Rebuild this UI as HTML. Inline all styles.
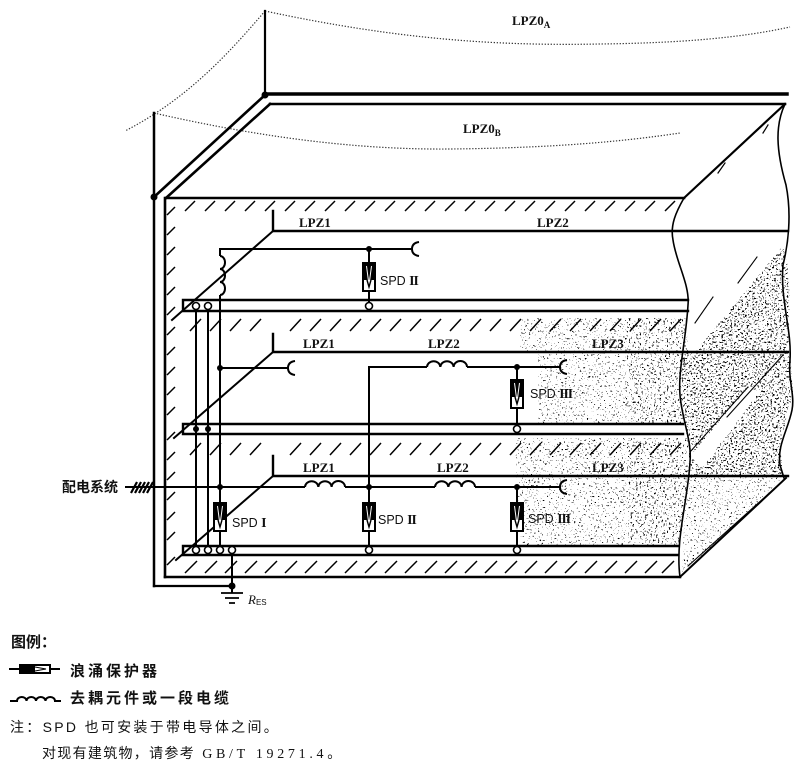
<!DOCTYPE html>
<html><head><meta charset="utf-8">
<style>
html,body{margin:0;padding:0;background:#fff;}
svg{display:block}
.t{font-family:"Liberation Serif",serif;font-weight:bold;font-size:13px;fill:#111}
.s{font-family:"Liberation Sans","Noto Sans CJK SC",sans-serif;font-size:12.5px;fill:#111}
.r{font-family:"Liberation Serif",serif;font-weight:bold;font-size:13.5px}
.c{font-family:"Liberation Sans","Noto Sans CJK SC",sans-serif;fill:#111}
</style></head><body>
<svg width="800" height="763" viewBox="0 0 800 763" xmlns="http://www.w3.org/2000/svg">
<defs>
<filter id="stL" color-interpolation-filters="sRGB">
 <feTurbulence type="fractalNoise" baseFrequency="0.55" numOctaves="2" seed="7" result="n"/>
 <feColorMatrix in="n" type="matrix" values="0 0 0 0 0  0 0 0 0 0  0 0 0 0 0  -20 0 0 0 6.6" result="a"/>
 <feComposite in="a" in2="SourceGraphic" operator="in"/>
</filter>
<filter id="stM" color-interpolation-filters="sRGB">
 <feTurbulence type="fractalNoise" baseFrequency="0.55" numOctaves="2" seed="3" result="n"/>
 <feColorMatrix in="n" type="matrix" values="0 0 0 0 0  0 0 0 0 0  0 0 0 0 0  -20 0 0 0 7.3" result="a"/>
 <feComposite in="a" in2="SourceGraphic" operator="in"/>
</filter>
<filter id="stD" color-interpolation-filters="sRGB">
 <feTurbulence type="fractalNoise" baseFrequency="0.55" numOctaves="2" seed="11" result="n"/>
 <feColorMatrix in="n" type="matrix" values="0 0 0 0 0  0 0 0 0 0  0 0 0 0 0  -20 0 0 0 8.0" result="a"/>
 <feComposite in="a" in2="SourceGraphic" operator="in"/>
</filter>
</defs>
<rect width="800" height="763" fill="#fff"/>

<!-- stipple regions -->
<g fill="#000">
 <polygon filter="url(#stL)" points="520,318 625,318 625,424 538,424 538,352 520,352"/>
 <polygon filter="url(#stM)" points="625,318 686,318 688,352 682,395 683,424 625,424"/>
 <polygon filter="url(#stL)" points="515,438 628,438 628,545 520,545"/>
 <polygon filter="url(#stM)" points="628,438 688,438 690,462 686,500 680,545 628,545"/>
 <polygon filter="url(#stD)" points="695,352 783,246 787,262 790,300 788,352"/>
 <polygon filter="url(#stD)" points="683,352 790,352 793,393 780,445 783,477 688,477 690,460 681,395"/>
 <polygon filter="url(#stL)" points="686,477 785,477 682,575"/>
</g>
<polygon fill="#fff" points="690,456 748,388 760,391 702,468"/>

<!-- dotted boundary curves -->
<g fill="none" stroke="#333" stroke-width="1.2" stroke-dasharray="1.3 1.7">
 <path d="M265,11 C400,40 500,46 600,44 C680,43 740,38 790,27"/>
 <path d="M265,11 C225,58 185,100 125,131"/>
 <path d="M154,113 C250,135 350,150 450,149 C550,148 620,142 680,133"/>
</g>

<!-- building structure -->
<g stroke="#000" fill="none" stroke-linecap="square">
 <line x1="265" y1="11" x2="265" y2="95" stroke-width="2.2"/>
 <line x1="154" y1="113" x2="154" y2="586" stroke-width="2.5"/>
 <line x1="154" y1="586" x2="232" y2="586" stroke-width="2.2"/>
 <line x1="265" y1="94" x2="787" y2="94" stroke-width="3.5"/>
 <line x1="270" y1="104" x2="785" y2="104" stroke-width="2.5"/>
 <line x1="265" y1="95" x2="154" y2="197" stroke-width="2.6"/>
 <line x1="270" y1="104" x2="166" y2="198" stroke-width="2.6"/>
 <line x1="166" y1="198" x2="684" y2="198" stroke-width="2.6"/>
 <line x1="785" y1="104" x2="684" y2="198" stroke-width="2.2"/>
 <line x1="718" y1="173" x2="725" y2="163" stroke-width="1.2"/>
 <line x1="763" y1="133" x2="768" y2="125" stroke-width="1.2"/>
 <line x1="165" y1="198" x2="165" y2="577" stroke-width="2.6"/>
 <line x1="165" y1="577" x2="680" y2="577" stroke-width="2.6"/>
 <!-- wavy breaks -->
 <path stroke-width="1.6" d="M684,198 C676,212 670,225 673,240 C676,262 690,285 688,305 C686,340 678,370 680,395 C682,420 692,440 690,462 C688,500 675,540 680,577"/>
 <path stroke-width="1.6" d="M785,104 C775,125 776,150 786,185 C792,215 788,245 783,265 C780,300 792,330 790,360 C788,380 795,395 792,410 C788,430 777,445 780,465 L784,478"/>
 <line x1="680" y1="577" x2="786" y2="478" stroke-width="2"/>
 <line x1="688" y1="566" x2="774" y2="489" stroke-width="1.1"/>
 <line x1="695" y1="323" x2="713" y2="297" stroke-width="1.1"/>
 <line x1="738" y1="283" x2="757" y2="257" stroke-width="1.1"/>
 <line x1="690" y1="452" x2="748" y2="387" stroke-width="1.1"/>
 <line x1="727" y1="417" x2="783" y2="355" stroke-width="1.1"/>
 <!-- slabs -->
 <path stroke-width="2.4" d="M688,300 H183 V311 H688"/>
 <path stroke-width="2.4" d="M683,424 H183 V434 H683"/>
 <path stroke-width="2.4" d="M678,546 H183 V555 H678"/>
 <!-- LPZ lines -->
 <path stroke-width="2.4" d="M273,211 V231 H788"/>
 <path stroke-width="2.4" d="M273,334 V352 H788"/>
 <path stroke-width="2.4" d="M273,456 V476 H788"/>
 <line x1="273" y1="231" x2="172" y2="320" stroke-width="2"/>
 <line x1="273" y1="352" x2="174" y2="438" stroke-width="2"/>
 <line x1="273" y1="476" x2="176" y2="560" stroke-width="2"/>
</g>

<!-- hatching -->
<g stroke="#000" stroke-width="1.5" fill="none">
 <path d="M185 211l10-10M205 211l10-10M225 211l10-10M245 211l10-10M265 211l10-10M285 211l10-10M305 211l10-10M325 211l10-10M345 211l10-10M365 211l10-10M385 211l10-10M405 211l10-10M425 211l10-10M445 211l10-10M465 211l10-10M485 211l10-10M505 211l10-10M525 211l10-10M545 211l10-10M565 211l10-10M585 211l10-10M605 211l10-10M625 211l10-10M645 211l10-10M665 211l10-10"/>
 <path d="M190 331l11-12M210 331l11-12M230 331l11-12M250 331l11-12M290 331l11-12M310 331l11-12M330 331l11-12M350 331l11-12M370 331l11-12M390 331l11-12M410 331l11-12M430 331l11-12M450 331l11-12M470 331l11-12M490 331l11-12M510 331l11-12M530 331l11-12M550 331l11-12M570 331l11-12M590 331l11-12M610 331l11-12M630 331l11-12M650 331l11-12M670 331l11-12"/>
 <path d="M190 455l11-12M210 455l11-12M230 455l11-12M250 455l11-12M290 455l11-12M310 455l11-12M330 455l11-12M350 455l11-12M370 455l11-12M390 455l11-12M410 455l11-12M430 455l11-12M450 455l11-12M470 455l11-12M490 455l11-12M510 455l11-12M530 455l11-12M550 455l11-12M570 455l11-12M590 455l11-12M610 455l11-12M630 455l11-12M650 455l11-12M670 455l11-12"/>
 <path d="M185 573l12-12M205 573l12-12M225 573l12-12M245 573l12-12M265 573l12-12M285 573l12-12M305 573l12-12M325 573l12-12M345 573l12-12M365 573l12-12M385 573l12-12M405 573l12-12M425 573l12-12M445 573l12-12M465 573l12-12M485 573l12-12M505 573l12-12M525 573l12-12M545 573l12-12M565 573l12-12M585 573l12-12M605 573l12-12M625 573l12-12M645 573l12-12M662 573l12-12"/>
 <path d="M167 215l8-8M167 235l8-8M167 255l8-8M167 275l8-8M167 295l8-8M167 315l8-8M167 335l8-8M167 355l8-8M167 375l8-8M167 395l8-8M167 415l8-8M167 440l8-8M167 460l8-8M167 480l8-8M167 500l8-8M167 520l8-8M167 540l8-8M167 565l8-8"/>
</g>

<!-- wiring -->
<g stroke="#000" stroke-width="2" fill="none">
 <line x1="196" y1="306" x2="196" y2="550"/>
 <line x1="208" y1="306" x2="208" y2="550"/>
 <path d="M220,550 V531 M220,503 V295 M220,256 V249 H412"/>
 <path d="M220,256 a5 6.5 0 0 1 0 13 a5 6.5 0 0 1 0 13 a5 6.5 0 0 1 0 13"/>
 <line x1="232" y1="550" x2="232" y2="593"/>
 <!-- floor 1 -->
 <path d="M369,249 V263 M369,291 V302"/>
 <path d="M419,242 Q412,243 412,249 Q412,255 419,256"/>
 <!-- floor 2 -->
 <path d="M220,368 H288"/>
 <path d="M295,361 Q288,362 288,368 Q288,374 295,375"/>
 <path d="M369,546 V531 M369,503 V367 H427 M467,367 H560"/>
 <path d="M427,367 a6.67 6 0 0 1 13.33 0 a6.67 6 0 0 1 13.33 0 a6.67 6 0 0 1 13.34 0"/>
 <path d="M567,360 Q560,361 560,367 Q560,373 567,374"/>
 <path d="M517,367 V380 M517,408 V425"/>
 <!-- floor 3 distribution -->
 <path d="M125,487 H305 M345,487 H435 M475,487 H560"/>
 <path d="M305,487 a6.67 6 0 0 1 13.33 0 a6.67 6 0 0 1 13.33 0 a6.67 6 0 0 1 13.34 0"/>
 <path d="M435,487 a6.67 6 0 0 1 13.33 0 a6.67 6 0 0 1 13.33 0 a6.67 6 0 0 1 13.34 0"/>
 <path d="M567,480 Q560,481 560,487 Q560,493 567,494"/>
 <path d="M517,487 V503 M517,531 V546"/>
 <path stroke-width="2.2" d="M131 493l6-11M135 493l6-11M139 493l6-11M143 493l6-11M147 493l6-11"/>
 <!-- ground -->
 <path stroke-width="1.8" d="M221,593 H243 M225,598 H239 M229,603 H235"/>
</g>

<!-- SPD boxes -->
<g>
 <g transform="translate(369,263)">
  <rect x="-6" y="0" width="12" height="28" fill="#fff" stroke="#000" stroke-width="2"/>
  <rect x="-6" y="0" width="12" height="17" fill="#000"/>
  <path d="M-2.5,3 L0,22 L2.5,3" fill="none" stroke="#fff" stroke-width="1"/>
  <path d="M-2,17 L0,24 L2,17" fill="none" stroke="#000" stroke-width="1.4"/>
 </g>
 <g transform="translate(517,380)">
  <rect x="-6" y="0" width="12" height="28" fill="#fff" stroke="#000" stroke-width="2"/>
  <rect x="-6" y="0" width="12" height="17" fill="#000"/>
  <path d="M-2.5,3 L0,22 L2.5,3" fill="none" stroke="#fff" stroke-width="1"/>
  <path d="M-2,17 L0,24 L2,17" fill="none" stroke="#000" stroke-width="1.4"/>
 </g>
 <g transform="translate(220,503)">
  <rect x="-6" y="0" width="12" height="28" fill="#fff" stroke="#000" stroke-width="2"/>
  <rect x="-6" y="0" width="12" height="17" fill="#000"/>
  <path d="M-2.5,3 L0,22 L2.5,3" fill="none" stroke="#fff" stroke-width="1"/>
  <path d="M-2,17 L0,24 L2,17" fill="none" stroke="#000" stroke-width="1.4"/>
 </g>
 <g transform="translate(369,503)">
  <rect x="-6" y="0" width="12" height="28" fill="#fff" stroke="#000" stroke-width="2"/>
  <rect x="-6" y="0" width="12" height="17" fill="#000"/>
  <path d="M-2.5,3 L0,22 L2.5,3" fill="none" stroke="#fff" stroke-width="1"/>
  <path d="M-2,17 L0,24 L2,17" fill="none" stroke="#000" stroke-width="1.4"/>
 </g>
 <g transform="translate(517,503)">
  <rect x="-6" y="0" width="12" height="28" fill="#fff" stroke="#000" stroke-width="2"/>
  <rect x="-6" y="0" width="12" height="17" fill="#000"/>
  <path d="M-2.5,3 L0,22 L2.5,3" fill="none" stroke="#fff" stroke-width="1"/>
  <path d="M-2,17 L0,24 L2,17" fill="none" stroke="#000" stroke-width="1.4"/>
 </g>
</g>

<!-- terminals and nodes -->
<g fill="#fff" stroke="#000" stroke-width="1.6">
 <circle cx="196" cy="306" r="3.5"/><circle cx="208" cy="306" r="3.5"/><circle cx="369" cy="306" r="3.5"/>
 <circle cx="517" cy="429" r="3.5"/>
 <circle cx="196" cy="550" r="3.5"/><circle cx="208" cy="550" r="3.5"/><circle cx="220" cy="550" r="3.5"/><circle cx="232" cy="550" r="3.5"/>
 <circle cx="369" cy="550" r="3.5"/><circle cx="517" cy="550" r="3.5"/>
</g>
<g fill="#000">
 <circle cx="265" cy="95" r="3.5"/><circle cx="154" cy="197" r="3.5"/>
 <circle cx="369" cy="249" r="3"/><circle cx="220" cy="368" r="3"/><circle cx="517" cy="367" r="3"/>
 <circle cx="196" cy="429" r="3"/><circle cx="208" cy="429" r="3"/>
 <circle cx="220" cy="487" r="3"/><circle cx="369" cy="487" r="3"/><circle cx="517" cy="487" r="3"/>
 <circle cx="232" cy="586" r="3.5"/>
</g>

<!-- labels -->
<text class="t" x="512" y="25">LPZ0<tspan font-size="9" dy="3">A</tspan></text>
<text class="t" x="463" y="133">LPZ0<tspan font-size="9" dy="3">B</tspan></text>
<text class="t" x="299" y="227">LPZ1</text>
<text class="t" x="537" y="227">LPZ2</text>
<text class="t" x="303" y="348">LPZ1</text>
<text class="t" x="428" y="348">LPZ2</text>
<text class="t" x="592" y="348">LPZ3</text>
<text class="t" x="303" y="472">LPZ1</text>
<text class="t" x="437" y="472">LPZ2</text>
<text class="t" x="592" y="472">LPZ3</text>
<text class="s" x="380" y="285">SPD <tspan class="r" letter-spacing="-1">II</tspan></text>
<text class="s" x="530" y="398">SPD <tspan class="r" letter-spacing="-1">III</tspan></text>
<text class="s" x="232" y="527">SPD <tspan class="r">I</tspan></text>
<text class="s" x="378" y="524">SPD <tspan class="r" letter-spacing="-1">II</tspan></text>
<text class="s" x="528" y="523">SPD <tspan class="r" letter-spacing="-1">III</tspan></text>
<text class="c" x="62" y="492" font-size="14" font-weight="bold">配电系统</text>
<text x="248" y="604" font-family="Liberation Serif,serif" font-style="italic" font-size="13" fill="#111">R<tspan font-family="Liberation Sans,sans-serif" font-style="normal" font-size="8" dy="1">ES</tspan></text>

<!-- legend -->
<text class="c" x="11" y="647" font-size="15" font-weight="bold">图例：</text>
<g stroke="#000" stroke-width="2" fill="none">
 <line x1="9" y1="669" x2="20" y2="669"/>
 <line x1="50" y1="669" x2="60" y2="669"/>
 <rect x="20" y="665" width="30" height="8" fill="#fff"/>
</g>
<rect x="20" y="665" width="15" height="8" fill="#000"/>
<path d="M35,667 L46,669 L35,671" fill="none" stroke="#000" stroke-width="1"/>
<text class="c" x="70" y="676" font-size="15" font-weight="bold" letter-spacing="3">浪涌保护器</text>
<path d="M10,701 H17 a4.75 4 0 0 1 9.5 0 a4.75 4 0 0 1 9.5 0 a4.75 4 0 0 1 9.5 0 a4.75 4 0 0 1 9.5 0 H61" fill="none" stroke="#000" stroke-width="2"/>
<text class="c" x="70" y="703" font-size="15" font-weight="bold" letter-spacing="3">去耦元件或一段电缆</text>
<text class="c" x="10" y="732" font-size="14" letter-spacing="2.3">注：SPD 也可安装于带电导体之间。</text>
<text class="c" x="42" y="758" font-size="14" letter-spacing="1.3">对现有建筑物，请参考<tspan font-family="Liberation Serif,serif" letter-spacing="3.7"> GB/T 19271.4</tspan>。</text>
</svg>
</body></html>
